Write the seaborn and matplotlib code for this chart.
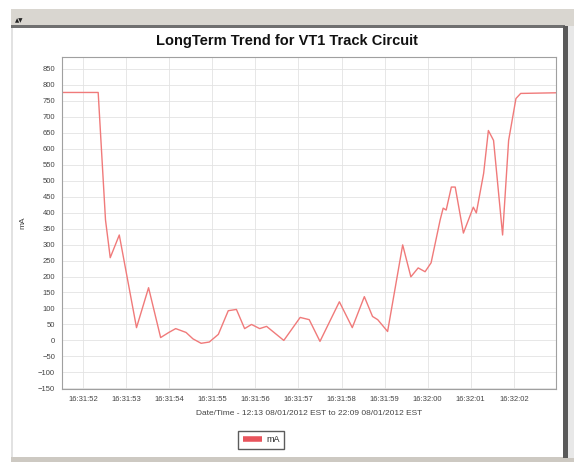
import pandas as pd
import matplotlib
matplotlib.use("Agg")
import matplotlib.pyplot as plt
import matplotlib.dates as mdates
from matplotlib.patches import Rectangle
from matplotlib.lines import Line2D
import seaborn as sns

# -----------------------------
# Data
# -----------------------------
day = "2012-08-01"
times = [
    "16:31:51.51", "16:31:52.35", "16:31:52.52", "16:31:52.63", "16:31:52.84",
    "16:31:53.24", "16:31:53.52", "16:31:53.80", "16:31:53.99", "16:31:54.15",
    "16:31:54.39", "16:31:54.55", "16:31:54.74", "16:31:54.93", "16:31:55.14",
    "16:31:55.37", "16:31:55.56", "16:31:55.75", "16:31:55.91", "16:31:56.10",
    "16:31:56.26", "16:31:56.66", "16:31:57.04", "16:31:57.25", "16:31:57.50",
    "16:31:57.95", "16:31:58.25", "16:31:58.53", "16:31:58.72", "16:31:58.84",
    "16:31:59.07", "16:31:59.42", "16:31:59.61", "16:31:59.78", "16:31:59.94",
    "16:32:00.08", "16:32:00.29", "16:32:00.36", "16:32:00.43", "16:32:00.55",
    "16:32:00.64", "16:32:00.83", "16:32:01.06", "16:32:01.13", "16:32:01.30",
    "16:32:01.41", "16:32:01.53", "16:32:01.74", "16:32:01.88", "16:32:02.05",
    "16:32:02.16", "16:32:02.98",
]
milliamps = [
    776, 776, 377, 259, 330,
    40, 165, 9, 25, 37,
    25, 5, -9, -5, 19,
    93, 97, 37, 50, 37,
    44, 0, 72, 65, -3,
    121, 40, 137, 75, 65,
    28, 299, 199, 227, 215,
    243, 377, 414, 408, 480,
    480, 336, 417, 399, 523,
    657, 626, 330, 626, 757,
    773, 775,
]

title = "LongTerm Trend for VT1 Track Circuit"
x_label = "Date/Time - 12:13 08/01/2012 EST to 22:09 08/01/2012 EST"
y_label = "mA"
series_name = "mA"

df = pd.DataFrame({"Time": pd.to_datetime([f"{day} {t}" for t in times]), "mA": milliamps})

# -----------------------------
# Styling
# -----------------------------
sns.set_style("white")
plt.rcParams["font.family"] = ["Liberation Sans", "DejaVu Sans"]

W, H = 574, 462
fig = plt.figure(figsize=(W / 100, H / 100), dpi=100, facecolor="white")


def px_rect(x0, y0, x1, y1, color):
    # rectangle given in screenshot pixels (top-left origin)
    fig.add_artist(Rectangle((x0 / W, 1 - y1 / H), (x1 - x0) / W, (y1 - y0) / H,
                             transform=fig.transFigure, facecolor=color,
                             edgecolor="none", zorder=-5))


# window chrome around the chart panel
px_rect(11, 9, W, 26, "#d9d6d0")
px_rect(11, 25, 565, 28, "#707070")
px_rect(11, 28, 13, 458, "#e2e2e2")
px_rect(11, 457, W, H, "#cdc9c2")
px_rect(563, 26, 568, 458, "#5a5a5a")
px_rect(568, 26, W, 458, "#e8e8e8")
fig.text(15 / W, 1 - 21 / H, "▲▼", fontsize=4, family="DejaVu Sans", color="#222222",
         va="center")

red = "#f07a7a"
ax = fig.add_axes([62 / W, 1 - 389 / H, (556 - 62) / W, (389 - 57) / H])
sns.lineplot(data=df, x="Time", y="mA", ax=ax, color=red, linewidth=1.0, legend=False)

ax.set_xlim(df["Time"].iloc[0], df["Time"].iloc[-1])
ax.set_ylim(-152, 887)
ax.set_yticks(range(-150, 851, 50))
ax.xaxis.set_major_locator(mdates.SecondLocator())
ax.xaxis.set_major_formatter(mdates.DateFormatter("%H:%M:%S"))

ax.grid(True, color="#e3e3e3", linewidth=0.6)
ax.tick_params(axis="both", labelsize=5.5, length=2, width=0.5, colors="#888888",
               labelcolor="#444444", pad=3)
for s in ax.spines.values():
    s.set_color("#a0a0a0")
    s.set_linewidth(0.8)

ax.set_xlabel(x_label, fontsize=6, color="#444444", labelpad=5)
ax.set_ylabel(y_label, fontsize=6, color="#444444", labelpad=8)
fig.text(287 / W, 1 - 41 / H, title, fontsize=10.5, fontweight="bold",
         ha="center", va="center", color="#111111")

handle = Line2D([], [], color="#e8545c", linewidth=4, solid_capstyle="butt")
fig.legend([handle], [series_name], loc="center", bbox_to_anchor=(261 / W, 1 - 440 / H),
           fontsize=6.5, frameon=True, fancybox=False, edgecolor="#333333",
           handlelength=2.2, handletextpad=0.4, borderpad=0.5)

fig.savefig("out.png", dpi=100, facecolor="white")
